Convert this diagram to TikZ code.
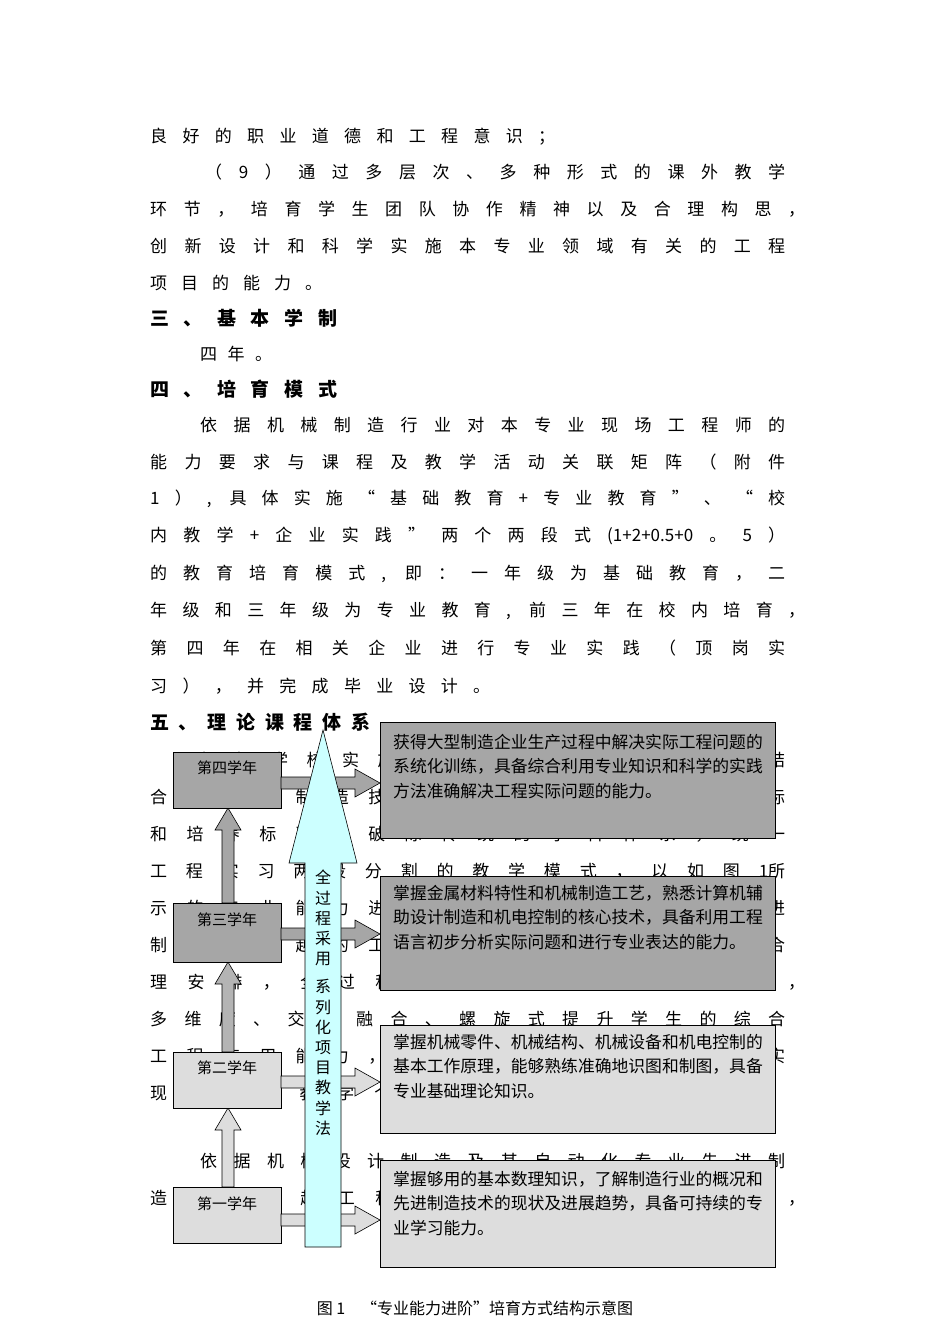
\documentclass[tikz,border=0pt]{standalone}
\usepackage{fontspec}
\setmainfont{Noto Sans CJK SC}
\begin{document}
\begin{tikzpicture}[x=1pt,y=-1pt,
  ybox/.style={draw=black,line width=0.8pt},
  tbox/.style={draw=black,line width=0.8pt},
  arr/.style={draw=black,line width=0.6pt},
  btxt/.style={anchor=west,inner sep=0pt,font=\fontsize{17}{17}\selectfont},
  htxt/.style={anchor=west,inner sep=0pt,font=\fontsize{19}{19}\selectfont\bfseries},
  dtxt/.style={anchor=north west,inner sep=0pt,align=left,font=\fontsize{16.8}{24.5}\selectfont},
  yt/.style={inner sep=0pt,font=\fontsize{15}{15}\selectfont}]
\useasboundingbox[fill=white] (0,0) rectangle (950,1344);
\newcommand\tl[4]{\node[btxt] at (#1,#2) {\makebox[#3pt][s]{#4}};}
\newcommand\hl[4]{\node[htxt] at (#1,#2) {\makebox[#3pt][s]{#4}};}
% body text
\tl{150}{137}{405}{良 好 的 职 业 道 德 和 工 程 意 识 ；}
\tl{205}{172}{580}{（ 9 ） 通 过 多 层 次 、 多 种 形 式 的 课 外 教 学}
\tl{150}{209}{655}{环 节 ， 培 育 学 生 团 队 协 作 精 神 以 及 合 理 构 思 ，}
\tl{150}{246}{635}{创 新 设 计 和 科 学 实 施 本 专 业 领 域 有 关 的 工 程}
\tl{150}{283}{172}{项 目 的 能 力 。}
\hl{150}{318}{187}{三 、 基 本 学 制}
\tl{200}{354}{72}{四 年 。}
\hl{150}{389}{187}{四 、 培 育 模 式}
\tl{200}{425}{585}{依 据 机 械 制 造 行 业 对 本 专 业 现 场 工 程 师 的}
\tl{150}{462}{635}{能 力 要 求 与 课 程 及 教 学 活 动 关 联 矩 阵 （ 附 件}
\tl{150}{499}{635}{1 ） , 具 体 实 施 “ 基 础 教 育 + 专 业 教 育 ” 、 “ 校}
\tl{150}{536}{635}{内 教 学 + 企 业 实 践 ” 两 个 两 段 式 (1+2+0.5+0 。 5 ）}
\tl{150}{574}{635}{的 教 育 培 育 模 式 , 即 ： 一 年 级 为 基 础 教 育 ， 二}
\tl{150}{611}{655}{年 级 和 三 年 级 为 专 业 教 育 , 前 三 年 在 校 内 培 育 ，}
\tl{150}{648}{635}{第 四 年 在 相 关 企 业 进 行 专 业 实 践 （ 顶 岗 实}
\tl{150}{686}{340}{习 ） ， 并 完 成 毕 业 设 计 。}
\hl{150}{722}{220}{五 、 理 论 课 程 体 系}
\tl{200}{760}{585}{根 据 学 校 实 施 卓 越 工 程 师 教 育 计 划 ， 结}
\tl{150}{797}{635}{合 作 企 业 制 造 技 术 的 发 展 需 求 及 行 业 国 际}
\tl{150}{834}{635}{和 培 养 标 准 ， 破 除 传 统 的 学 科 体 系 ， 统 一}
\tl{150}{871}{635}{工 程 实 习 两 段 分 割 的 教 学 模 式 ， 以 如 图 1所}
\tl{150}{908}{635}{示 的 专 业 能 力 进 阶 模 式 为 主 线 ， 对 课 程 进}
\tl{150}{945}{635}{制 订 了 卓 越 的 工 程 师 培 养 计 划 ， 进 行 整 合}
\tl{150}{982}{655}{理 安 排 ， 全 过 程 实 施 课 程 体 系 的 系 统 化 ，}
\tl{150}{1019}{635}{多 维 度 、 交 叉 融 合 、 螺 旋 式 提 升 学 生 的 综 合}
\tl{150}{1056}{635}{工 程 应 用 能 力 ， 通 过 卓 越 计 划 的 教 学 来 实}
\tl{150}{1093}{428}{现 专 业 化 教 学 个 性 化 培 养 。}
\tl{200}{1161}{585}{依 据 机 械 设 计 制 造 及 其 自 动 化 专 业 先 进 制}
\tl{150}{1198}{655}{造 技 术 卓 越 工 程 师 的 培 养 目 标 与 要 求 等 ，}
% colours
\definecolor{gd}{HTML}{A6A6A6}
\definecolor{gm}{HTML}{B4B4B4}
\definecolor{gl}{HTML}{DDDDDD}
\definecolor{cy}{HTML}{CCFFFF}
% up arrows between year boxes
\newcommand\uparr[3]{\filldraw[arr,fill=#3] (222,#1)--(222,#2+22)--(215,#2+22)--(228,#2)--(241,#2+22)--(234,#2+22)--(234,#1)--cycle;}
\uparr{1187}{1108}{gl}
\uparr{1052}{962}{gm}
\uparr{903}{808}{gd}
% year boxes
\node[ybox,fill=gd,minimum width=108pt,minimum height=56pt,inner sep=0pt] (y4) at (227,780) {};
\node[ybox,fill=gd,minimum width=108pt,minimum height=59pt,inner sep=0pt] (y3) at (227,932.5) {};
\node[ybox,fill=gl,minimum width=108pt,minimum height=56pt,inner sep=0pt] (y2) at (227,1080) {};
\node[ybox,fill=gl,minimum width=108pt,minimum height=56pt,inner sep=0pt] (y1) at (227,1215) {};
\node[yt] (l4) at (227,768) {第四学年};
\node[yt] (l3) at (227,920) {第三学年};
\node[yt] (l2) at (227,1068) {第二学年};
\node[yt] (l1) at (227,1204) {第一学年};
% right arrows
\newcommand\rarr[2]{\filldraw[arr,fill=#2] (281,#1-6)--(355,#1-6)--(355,#1-14)--(380,#1)--(355,#1+14)--(355,#1+6)--(281,#1+6)--cycle;}
\rarr{783}{gd}
\rarr{934}{gd}
\rarr{1082}{gl}
\rarr{1220}{gl}
% cyan arrow
\filldraw[arr,fill=cy] (305,1247)--(305,863)--(289,863)--(323,730)--(357,863)--(341,863)--(341,1247)--cycle;
\node[inner sep=0pt,align=center,font=\fontsize{16}{20.2}\selectfont] (cyt) at (323,870) [anchor=north] {全\\过\\程\\采\\用\\[8pt]系\\列\\化\\项\\目\\教\\学\\法};
% text boxes
\node[tbox,fill=gd,anchor=north west,minimum width=395pt,minimum height=116pt,inner sep=0pt] (ta) at (380,722) {};
\node[tbox,fill=gd,anchor=north west,minimum width=395pt,minimum height=114pt,inner sep=0pt] (tb) at (380,876) {};
\node[tbox,fill=gl,anchor=north west,minimum width=395pt,minimum height=108pt,inner sep=0pt] (tc) at (380,1025) {};
\node[tbox,fill=gl,anchor=north west,minimum width=395pt,minimum height=107pt,inner sep=0pt] (td) at (380,1160) {};
\node[dtxt] (xa) at (393,734) {获得大型制造企业生产过程中解决实际工程问题的\\系统化训练，具备综合利用专业知识和科学的实践\\方法准确解决工程实际问题的能力。};
\node[dtxt] (xb) at (393,885) {掌握金属材料特性和机械制造工艺，熟悉计算机辅\\助设计制造和机电控制的核心技术，具备利用工程\\语言初步分析实际问题和进行专业表达的能力。};
\node[dtxt] (xc) at (393,1034) {掌握机械零件、机械结构、机械设备和机电控制的\\基本工作原理，能够熟练准确地识图和制图，具备\\专业基础理论知识。};
\node[dtxt] (xd) at (393,1171) {掌握够用的基本数理知识，了解制造行业的概况和\\先进制造技术的现状及进展趋势，具备可持续的专\\业学习能力。};
% caption
\node[inner sep=0pt,font=\fontsize{16}{16}\selectfont] (cap) at (475,1308) {图 1\quad “专业能力进阶”培育方式结构示意图};
\end{tikzpicture}
\end{document}
